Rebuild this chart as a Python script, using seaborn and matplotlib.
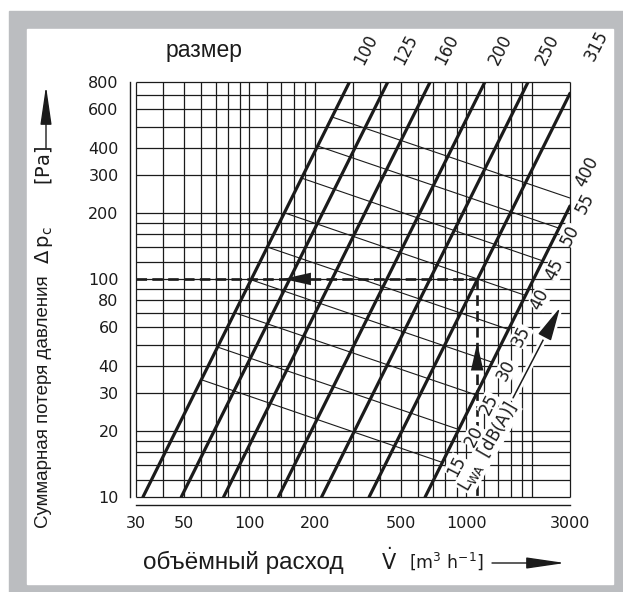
import numpy as np
import pandas as pd
import matplotlib
matplotlib.use('Agg')
import matplotlib.pyplot as plt
import matplotlib.patheffects as pe
import seaborn as sns
from matplotlib.patches import Rectangle
from matplotlib.ticker import FixedLocator, FixedFormatter, NullFormatter

# duct sizes (thick lines): start at 10 Pa, end where the line leaves the grid
sizes = [100, 125, 160, 200, 250, 315, 400]
size_v_lo = [32.3, 48.5, 76, 136, 215, 356, 645]
size_p_lo = [10, 10, 10, 10, 10, 10, 10]
size_v_hi = [289, 434, 680, 1216, 1923, 3000, 3000]
size_p_hi = [800, 800, 800, 800, 800, 710, 216]

# sound power level lines L_WA (thin lines)
levels = [55, 50, 45, 40, 35, 30, 25, 20, 15]
lvl_v_start = [240, 206, 174, 145, 121, 102, 85.5, 71.3, 60]
lvl_p_start = [553, 407, 290, 201, 140, 99, 70, 48.7, 34.5]
lvl_v_end = [3000, 2665, 2247, 1871, 1562, 1314, 1105, 921, 775]
lvl_p_end = [235, 171, 121, 84, 58.7, 41.5, 29.4, 20.4, 14.4]

# example reading (dashed)
ex_v = 1120
ex_p = 100

grid_x = [30, 40, 50, 60, 70, 80, 90, 100, 120, 140, 160, 180, 200, 300, 400,
          500, 600, 700, 800, 900, 1000, 1200, 1400, 1600, 1800, 2000, 3000]
grid_y = [10, 12, 14, 16, 18, 20, 30, 40, 50, 60, 70, 80, 90, 100, 120, 140,
          160, 180, 200, 300, 400, 500, 600, 700, 800]
minor_x = [32, 34, 36, 38, 45, 55, 65, 75, 85, 95, 110, 130, 150, 170, 190,
           250, 350, 450, 550, 650, 750, 850, 950, 1100, 1300, 1500, 1700,
           1900, 2200, 2400, 2600, 2800]
minor_y = [11, 13, 15, 17, 19, 25, 35, 45, 55, 65, 75, 85, 95, 110, 130, 150,
           170, 190, 250, 320, 340, 360, 380, 450, 550, 650, 750]
xlabels = [30, 50, 100, 200, 500, 1000, 3000]
ylabels = [10, 20, 30, 40, 60, 80, 100, 200, 300, 400, 600, 800]

sns.set_style('white')
plt.rcParams['font.family'] = ['DejaVu Sans']
plt.rcParams['mathtext.fontset'] = 'dejavusans'

W, H = 623, 592
fig = plt.figure(figsize=(W / 100, H / 100), dpi=100, facecolor='white')

# grey frame with white panel
fig.patches.append(Rectangle((9 / W, 0), 614 / W, 581 / H, transform=fig.transFigure,
                             color='#bbbdc0', zorder=-10))
fig.patches.append(Rectangle((27 / W, 8 / H), 586 / W, 555 / H, transform=fig.transFigure,
                             color='white', zorder=-9))

ax = fig.add_axes([136 / W, 1 - 497 / H, 434 / W, 415 / H])
ax.set_facecolor('none')
ax.set_xscale('log')
ax.set_yscale('log')
ax.set_xlim(30, 3000)
ax.set_ylim(10, 800)

ink = '#1b1b1b'
ax.vlines(grid_x, 10, 800, colors=ink, lw=0.9, clip_on=False, zorder=1)
ax.hlines(grid_y, 30, 3000, colors=ink, lw=0.9, clip_on=False, zorder=1)

thick = pd.DataFrame({'size': sizes * 2, 'V': size_v_lo + size_v_hi,
                      'dp': size_p_lo + size_p_hi})
thin = pd.DataFrame({'level': levels * 2, 'V': lvl_v_start + lvl_v_end,
                     'dp': lvl_p_start + lvl_p_end})
sns.lineplot(data=thin, x='V', y='dp', units='level', estimator=None, color=ink,
             lw=0.8, ax=ax, zorder=2)
sns.lineplot(data=thick, x='V', y='dp', units='size', estimator=None, color=ink,
             lw=2.3, ax=ax, zorder=3)

# dashed example
ax.plot([30, ex_v], [ex_p, ex_p], color=ink, lw=1.9, ls=(0, (4, 2)), zorder=4, clip_on=False)
ax.plot([ex_v, ex_v], [ex_p, 10], color=ink, lw=1.9, ls=(0, (4, 2)), zorder=4, clip_on=False)
head = '-|>,head_length=2.0,head_width=0.45'
ax.annotate('', xy=(143, ex_p), xytext=(195, ex_p),
            arrowprops=dict(arrowstyle=head, color=ink, lw=0, shrinkA=0, shrinkB=0), zorder=5)
ax.annotate('', xy=(ex_v, 51), xytext=(ex_v, 36),
            arrowprops=dict(arrowstyle=head, color=ink, lw=0, shrinkA=0, shrinkB=0), zorder=5)

# L_WA arrow
arr = ax.annotate('', xy=(2700, 74), xytext=(1640, 28.5),
                  arrowprops=dict(arrowstyle='-|>,head_length=2.1,head_width=0.45',
                                  color=ink, lw=1.1, shrinkA=0, shrinkB=0), zorder=5)
arr.arrow_patch.set_path_effects([pe.withStroke(linewidth=5, foreground='white')])

# axis spines / ticks
sns.despine(ax=ax, offset={'left': 4.5, 'bottom': 6})
for s in ['left', 'bottom']:
    ax.spines[s].set_color(ink)
    ax.spines[s].set_linewidth(1.0)
ax.xaxis.set_major_locator(FixedLocator(grid_x))
ax.xaxis.set_major_formatter(FixedFormatter([str(v) if v in xlabels else '' for v in grid_x]))
ax.xaxis.set_minor_locator(FixedLocator(minor_x))
ax.xaxis.set_minor_formatter(NullFormatter())
ax.yaxis.set_major_locator(FixedLocator(grid_y))
ax.yaxis.set_major_formatter(FixedFormatter([str(v) if v in ylabels else '' for v in grid_y]))
ax.yaxis.set_minor_locator(FixedLocator(minor_y))
ax.yaxis.set_minor_formatter(NullFormatter())
ax.tick_params(which='major', length=5, width=0.9, color=ink, labelsize=11.5,
               labelcolor=ink, direction='out')
ax.tick_params(which='minor', length=2.5, width=0.9, color=ink, direction='out')
ax.tick_params(axis='x', pad=3)
ax.tick_params(axis='y', pad=3)
ax.set_xlabel('')
ax.set_ylabel('')


def px(x, y):
    return x / W, 1 - y / H


num = dict(fontsize=12, color=ink, rotation=63, ha='center', va='center')
for lab, (x, y) in zip(sizes[:6], [(366, 50), (406, 50), (447, 50), (500, 50), (547, 50), (596, 46)]):
    fig.text(*px(x, y), str(lab), **num)
wb = dict(facecolor='white', edgecolor='none', pad=0.3)
fig.text(*px(587, 172), '400', bbox=wb, **num)
for lab, (x, y) in zip(levels, [(585, 203), (570, 235), (555, 269), (540, 299), (521, 336),
                                (506, 370), (489, 404), (474, 436), (456, 466)]):
    fig.text(*px(x, y), str(lab), bbox=wb, **num)
fig.text(*px(488, 447), r'L$_{\mathrm{WA}}$  [dB(A)]', fontsize=12, color=ink, rotation=60,
         ha='center', va='center', bbox=dict(facecolor='white', edgecolor='none', pad=0.5))

lab = dict(family=['Liberation Sans', 'DejaVu Sans'], color=ink)
fig.text(*px(204, 50), 'размер', fontsize=16.5, ha='center', va='center', **lab)
fig.text(*px(344, 562), 'объёмный расход', fontsize=17.5, ha='right', va='center', **lab)
fig.text(*px(389, 561), r'$\dot{\mathrm{V}}$', fontsize=15, ha='center', va='center', color=ink)
fig.text(*px(446, 561), r'$\left[\mathrm{m^3\ h^{-1}}\right]$', fontsize=12.5, ha='center',
         va='center', color=ink)
fig.text(*px(44, 402), 'Суммарная потеря давления', fontsize=13.5, rotation=90,
         ha='center', va='center', **lab)
fig.text(*px(44, 245), r'$\Delta\,\mathrm{p_c}$', fontsize=14, rotation=90,
         ha='center', va='center', color=ink)
fig.text(*px(44, 165), r'$\left[\mathrm{Pa}\right]$', fontsize=14, rotation=90,
         ha='center', va='center', color=ink)

# arrows next to the axis titles
big = '-|>,head_length=2.4,head_width=0.35'
ax.annotate('', xy=(565, H - 563), xytext=(492, H - 563), xycoords='figure pixels',
            textcoords='figure pixels',
            arrowprops=dict(arrowstyle=big, color=ink, lw=1.0, shrinkA=0, shrinkB=0),
            annotation_clip=False)
ax.annotate('', xy=(46, H - 86), xytext=(46, H - 148), xycoords='figure pixels',
            textcoords='figure pixels',
            arrowprops=dict(arrowstyle=big, color=ink, lw=1.0, shrinkA=0, shrinkB=0),
            annotation_clip=False)

fig.savefig('out.png', dpi=100, facecolor='white')
